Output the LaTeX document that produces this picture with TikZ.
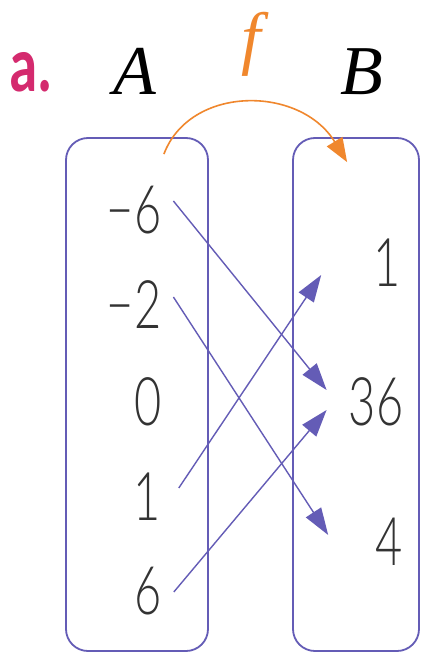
\documentclass[tikz,border=0pt]{standalone}
\usepackage{fontspec}
\setmainfont{Liberation Serif}
\newfontfamily\numf{Lato}[UprightFont=* Light]
\newfontfamily\labfont{Carlito}
\usetikzlibrary{arrows.meta}
\definecolor{setblue}{RGB}{100,92,182}
\definecolor{forange}{RGB}{240,135,45}
\definecolor{apink}{RGB}{212,42,110}
\tikzset{
  setbox/.style={draw=setblue, line width=1.8pt, rounded corners=22pt, inner sep=0pt},
  num/.style={inner sep=0pt, font=\numf\fontsize{67}{67}\selectfont, text=black!80},
  maparrow/.style={draw=setblue, line width=1.4pt, -{Triangle[length=27pt,width=18pt]}},
  setlabel/.style={inner sep=0pt, font=\fontsize{70}{70}\selectfont\itshape}
}
\newcommand{\nx}[1]{\scalebox{0.7}[1]{#1}}
\begin{document}
\begin{tikzpicture}[x=1pt,y=-1pt]
\useasboundingbox (0,0) rectangle (436,661);
\fill[white] (0,0) rectangle (436,661);
% boxes
\node[setbox, minimum width=142pt, minimum height=513pt] (boxA) at (137,394.5) {};
\node[setbox, minimum width=126pt, minimum height=513pt] (boxB) at (356,394.5) {};
% labels
\node[inner sep=0pt, text=apink, font=\labfont\bfseries\fontsize{79}{79}\selectfont] (lbl) at (31,72) {\scalebox{0.72}[1]{a.}};
\node[setlabel] (labA) at (135,71) {A};
\node[setlabel] (labB) at (362,72) {B};
\node[setlabel, text=forange] (labf) at (251,44) {f};
% elements of A
\node[num] (a1) at (134,210) {\nx{−6}};
\node[num] (a2) at (134,305) {\nx{−2}};
\node[num] (a3) at (148,402) {\nx{0}};
\node[num] (a4) at (147,497) {\nx{1}};
\node[num] (a5) at (148,591) {\nx{6}};
% elements of B
\node[num] (b1) at (387,263) {\nx{1}};
\node[num] (b2) at (376,402) {\nx{36}};
\node[num] (b3) at (389,542) {\nx{4}};
% mapping arrows
\draw[maparrow] ([shift={(12,-9)}]a1.east) -- ([shift={(-22,-12)}]b2.west);
\draw[maparrow] ([shift={(12,-8)}]a2.east) -- ([shift={(-47,-7)}]b3.west);
\draw[maparrow] ([shift={(18,-9)}]a4.east) -- ([shift={(-52,12)}]b1.west);
\draw[maparrow] ([shift={(12,1)}]a5.east) -- ([shift={(-22,8)}]b2.west);
% f arrow
\draw[draw=forange, line width=1.6pt, -{Triangle[length=24pt,width=18pt]}]
  ([shift={(-45,17)}]boxA.north east) .. controls (190,85) and (300,85) .. ([shift={(55,25)}]boxB.north west);
\end{tikzpicture}
\end{document}
